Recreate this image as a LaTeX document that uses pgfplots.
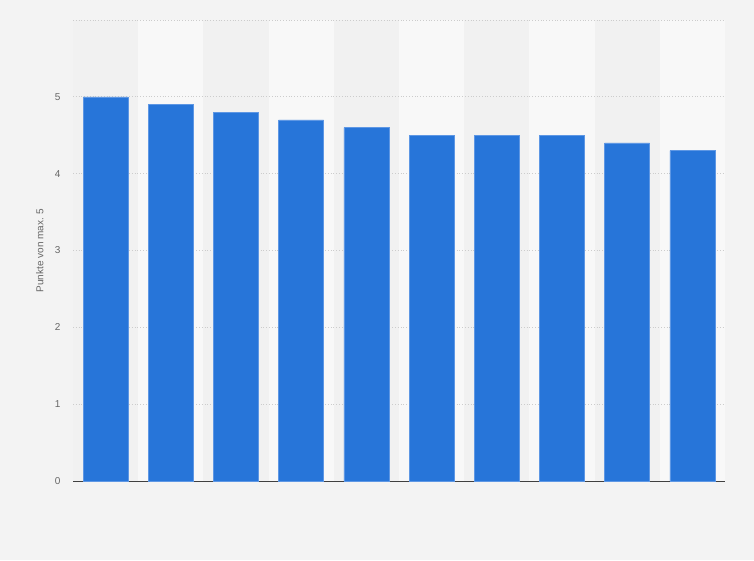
\documentclass[border=0pt]{standalone}
\usepackage{pgfplots}
\pgfplotsset{compat=1.18}
\usepackage{fontspec}
\setmainfont{Liberation Sans}
\definecolor{bg}{HTML}{F3F3F3}
\definecolor{banddark}{HTML}{F1F1F1}
\definecolor{bandlight}{HTML}{F8F8F8}
\definecolor{barblue}{HTML}{2775D9}
\definecolor{baredge}{HTML}{5E97E4}
\definecolor{txt}{HTML}{666666}
\definecolor{gridc}{HTML}{CCCCCC}
\begin{document}
\begin{tikzpicture}[x=1pt,y=1pt]
\fill[bg] (0,0) rectangle (754,560);
\begin{axis}[
  at={(73pt,79pt)}, anchor=south west,
  scale only axis, width=652pt, height=461pt,
  xmin=-0.5, xmax=9.5, ymin=0, ymax=6,
  axis x line*=bottom, axis y line*=left,
  x axis line style={draw=black!75, line width=1pt},
  y axis line style={draw=none},
  xtick=\empty,
  ytick={0,1,2,3,4,5,6},
  yticklabels={0,1,2,3,4,5,},
  major tick length=0pt,
  yticklabel style={font=\fontsize{10}{12}\selectfont, text=txt, xshift=-9pt},
  /pgf/number format/assume math mode=true,
  ylabel={Punkte von max. 5},
  ylabel style={font=\fontsize{10}{12}\selectfont, text=txt, at={(axis description cs:-0.051,0.5)}, anchor=center},
  ybar, bar width=45pt,
  clip=false,
]
\pgfplotsinvokeforeach{0,2,4,6,8}{
  \fill[banddark] (axis cs:#1-0.5,0) rectangle (axis cs:#1+0.5,6);
  \fill[bandlight] (axis cs:#1+0.5,0) rectangle (axis cs:#1+1.5,6);
}
\pgfplotsinvokeforeach{1,2,3,4,5,6}{
  \draw[gridc, dotted, line width=0.8pt] (axis cs:-0.5,#1) -- (axis cs:9.5,#1);
}
\addplot[fill=barblue, draw=baredge, line width=0.6pt] coordinates {
  (0,5.0) (1,4.9) (2,4.8) (3,4.7) (4,4.6) (5,4.5) (6,4.5) (7,4.5) (8,4.4) (9,4.3)
};
\end{axis}
\end{tikzpicture}
\end{document}
